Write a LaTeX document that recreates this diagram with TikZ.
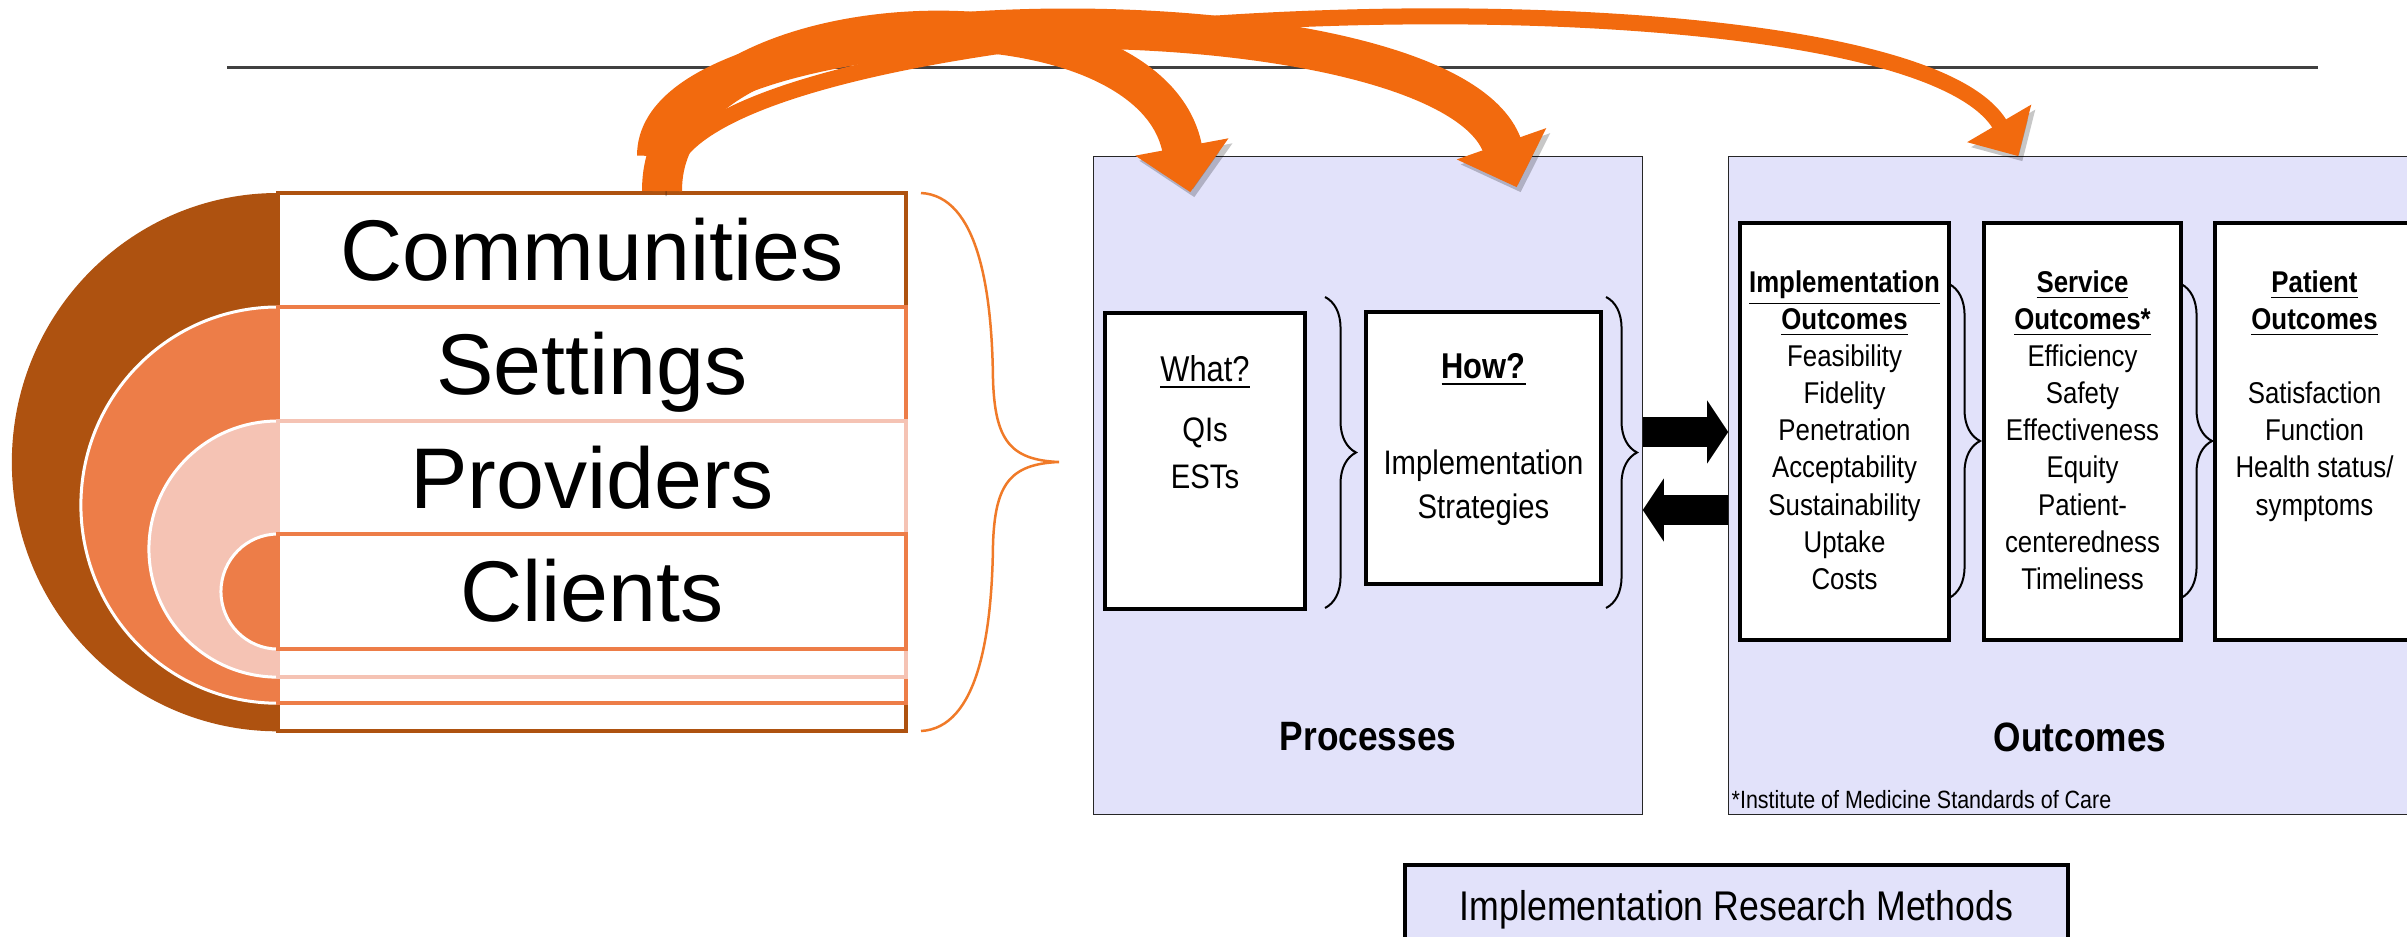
\documentclass[tikz,border=0pt]{standalone}
\usepackage{fontspec}
\setmainfont{Liberation Sans}
\newfontfamily\narrowsf{Liberation Sans}[FakeStretch=0.86]
\usetikzlibrary{arrows.meta,decorations.pathreplacing}

\definecolor{rustbrown}{RGB}{174,82,16}
\definecolor{ringorange}{RGB}{237,125,72}
\definecolor{palepeach}{RGB}{245,195,180}
\definecolor{arroworange}{RGB}{242,106,14}
\definecolor{braceorange}{RGB}{240,122,40}
\definecolor{lavender}{RGB}{226,226,250}
\definecolor{rulegray}{RGB}{64,64,64}

\begin{document}
\begin{tikzpicture}[
        % --- GENERAL SETTINGS: one unit = one pixel of the 2407 x 937 frame ---
        x=0.01cm, y=-0.01cm,
        % rectangles of the nested levels on the left
        ringbox/.style={
            rectangle,
            fill=white,
            line width=0.035cm,
            minimum width=6.28cm,
            inner sep=0pt
        },
        % big words inside the levels
        ringtext/.style={
            font=\fontsize{24.5}{29}\selectfont,
            text height=0.615cm, text depth=0cm,
            inner sep=0pt
        },
        % lavender panels (Processes, Outcomes, methods)
        stagepanel/.style={
            rectangle,
            draw=black!85,
            fill=lavender,
            line width=0.012cm,
            inner sep=0pt
        },
        % white boxes with a heavy frame
        innerbox/.style={
            rectangle,
            draw=black,
            fill=white,
            line width=0.035cm,
            inner sep=0pt
        },
        % texts inside the boxes
        coltext/.style={
            align=center, anchor=north, inner sep=0pt,
            font=\narrowsf\fontsize{8.54}{10.55}\selectfont
        },
        proctext/.style={
            align=center, anchor=north, inner sep=0pt,
            font=\narrowsf\fontsize{9.67}{12.5}\selectfont
        },
        stagetitle/.style={
            inner sep=0pt,
            font=\narrowsf\bfseries\fontsize{11.66}{14}\selectfont
        },
        notetext/.style={
            anchor=west, inner sep=0pt,
            font=\narrowsf\fontsize{7.1}{8.5}\selectfont
        },
        % small black braces
        curlybrace/.style={
            decorate,
            decoration={brace, amplitude=0.31cm},
            line width=0.02cm
        },
        % orange bent arrows with a soft shadow
        flowarrow/.style={
            draw=arroworange,
            line width=#1,
            preaction={draw=black, opacity=0.22,
                transform canvas={xshift=0.04cm, yshift=-0.05cm}}
        },
        % black block arrows between the panels
        blockarrow/.style={
            draw=black,
            line width=0.3cm,
            -{Triangle[length=0.21cm, width=0.62cm]}
        }
    ]

    % --- FRAME ---
    \useasboundingbox (0,0) rectangle (2407,937);
    \clip (0,0) rectangle (2407,937);

    % rule across the top
    \draw[rulegray, line width=0.03cm] (227,68) -- (2318,68);

    % --- LEFT: NESTED LEVELS ---
    \begin{scope}
        % half ellipses, outer to inner
        \fill[rustbrown] (278,193) arc[start angle=90, end angle=270, x radius=2.66cm, y radius=2.69cm] -- cycle;
        \filldraw[fill=ringorange, draw=white, line width=0.03cm] (278,307) arc[start angle=90, end angle=270, x radius=1.97cm, y radius=1.98cm] -- cycle;
        \filldraw[fill=palepeach, draw=white, line width=0.03cm] (278,421) arc[start angle=90, end angle=270, x radius=1.29cm, y radius=1.28cm] -- cycle;
        \filldraw[fill=ringorange, draw=white, line width=0.03cm] (278,534) arc[start angle=90, end angle=270, x radius=0.57cm, y radius=0.575cm] -- cycle;

        % rectangles of the levels
        \node[ringbox, draw=rustbrown, minimum height=5.38cm] (ringA) at (592,462) {};
        \node[ringbox, draw=ringorange, minimum height=3.96cm] (ringB) at (592,505) {};
        \node[ringbox, draw=palepeach, minimum height=2.56cm] (ringC) at (592,549) {};
        \node[ringbox, draw=ringorange, minimum height=1.15cm] (ringD) at (592,591.5) {};

        % labels of the levels
        \node[ringtext] (communities) at (592,250) {Communities};
        \node[ringtext] (settings) at (592,364) {Settings};
        \node[ringtext] (providers) at (592,478) {Providers};
        \node[ringtext] (clients) at (592,591) {Clients};

        % orange brace on the right of the levels
        \draw[braceorange, line width=0.025cm] (921,193) .. controls (978,196) and (992,290) .. (993,380)
            .. controls (995,440) and (1010,460) .. (1059,462)
            .. controls (1010,464) and (995,484) .. (993,544)
            .. controls (992,634) and (978,728) .. (921,731);
    \end{scope}

    % --- MIDDLE: PROCESSES ---
    \begin{scope}
        \node[stagepanel, minimum width=5.48cm, minimum height=6.57cm] (proc) at (1368,485.5) {};
        \node[innerbox, minimum width=2cm, minimum height=2.96cm] (what) at (1205,461) {};
        \node[innerbox, minimum width=2.35cm, minimum height=2.72cm] (how) at (1483.5,448) {};

        \node[proctext, font=\narrowsf\fontsize{9.67}{13.4}\selectfont] (whattext) at (1205,355)
            {{\fontsize{10.2}{13.4}\selectfont\underline{What?}}\\[3.7pt] QIs\\ ESTs};
        \node[proctext] (howtext) at (1483.5,353)
            {{\fontsize{10.2}{12.5}\selectfont\underline{\textbf{How?}}}\\[14.8pt] Implementation\\ Strategies};

        \draw[curlybrace] (1325,297) -- (1325,608);
        \draw[curlybrace] (1606,297) -- (1606,608);

        \node[stagetitle] (processes) at (1368,737) {Processes};
    \end{scope}

    % --- RIGHT: OUTCOMES ---
    \begin{scope}
        \node[stagepanel, minimum width=7.11cm, minimum height=6.57cm] (outc) at (2084.5,485.5) {};
        \node[innerbox, minimum width=2.09cm, minimum height=4.17cm] (implbox) at (1844.5,431.5) {};
        \node[innerbox, minimum width=1.97cm, minimum height=4.17cm] (servbox) at (2082.5,431.5) {};
        \node[innerbox, minimum width=1.99cm, minimum height=4.17cm] (patbox) at (2314.5,431.5) {};

        \node[coltext] (impltext) at (1844.5,270)
            {\underline{\textbf{Implementation}}\\ \underline{\textbf{Outcomes}}\\ Feasibility\\ Fidelity\\
             Penetration\\ Acceptability\\ Sustainability\\ Uptake\\ Costs};
        \node[coltext] (servtext) at (2082.5,270)
            {\underline{\textbf{Service}}\\ \underline{\textbf{Outcomes*}}\\ Efficiency\\ Safety\\
             Effectiveness\\ Equity\\ Patient-\\ centeredness\\ Timeliness};
        \node[coltext] (pattext) at (2314.5,270)
            {\underline{\textbf{Patient}}\\ \underline{\textbf{Outcomes}}\\[10.55pt] Satisfaction\\ Function\\
             Health status/\\ symptoms};

        \draw[curlybrace] (1949,284) -- (1949,598);
        \draw[curlybrace] (2181,284) -- (2181,598);

        \node[stagetitle] (outcomes) at (2080,737) {Outcomes};
        \node[notetext] (iomnote) at (1731,800) {*Institute of Medicine Standards of Care};
    \end{scope}

    % --- BLOCK ARROWS BETWEEN THE PANELS ---
    \draw[blockarrow] ([yshift=0.535cm]proc.east) -- ([yshift=0.535cm]outc.west);
    \draw[blockarrow] ([yshift=-0.245cm]outc.west) -- ([yshift=-0.245cm]proc.east);

    % --- METHODS BOX ---
    \node[stagepanel, draw=black, line width=0.035cm, minimum width=6.63cm, minimum height=0.85cm,
          font=\narrowsf\fontsize{11.8}{14}\selectfont, text height=0.30cm, text depth=0.05cm]
          (methods) at (1736.5,907.5) {Implementation Research Methods};

    % --- BENT ARROWS FROM THE LEVELS ---
    \draw[flowarrow=0.16cm, -{Triangle[length=0.38cm, width=0.72cm]}]
        ([xshift=0.76cm, yshift=0.13cm]ringA.north) .. controls +(22,-180) and +(-120,-205) .. ([xshift=2.9cm]outc.north west);
    \draw[flowarrow=0.4cm, -{Triangle[length=0.46cm, width=0.92cm]}]
        ([xshift=0.65cm, yshift=0.35cm]ringA.north) .. controls +(-2,-168) and +(-70,-200) .. ([xshift=-1.26cm, yshift=-0.31cm]proc.north east);
    \draw[flowarrow=0.4cm, -{Triangle[length=0.46cm, width=0.92cm]}]
        ([xshift=0.7cm]ringA.north) .. controls +(-2,-198) and +(-40,-215) .. ([xshift=0.97cm, yshift=-0.36cm]proc.north west);

    \end{tikzpicture}
\end{document}
